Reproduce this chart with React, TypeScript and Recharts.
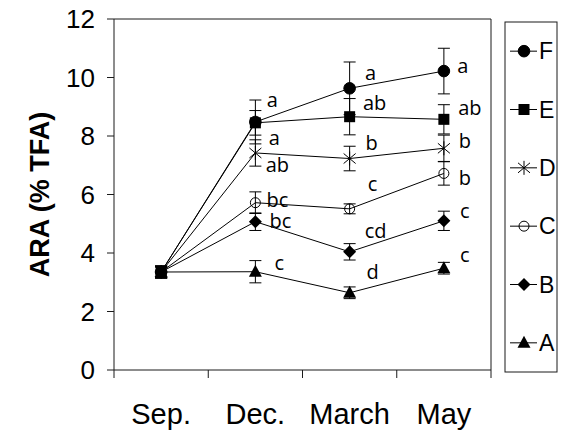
import React from 'react';
import { LineChart, Line, XAxis, YAxis, ErrorBar, LabelList, ReferenceLine, Label } from 'recharts';

const categories = ['Sep.', 'Dec.', 'March', 'May'];
const yTicks = [0, 2, 4, 6, 8, 10, 12];

const valuesA = [3.35, 3.36, 2.64, 3.48];
const errorsA = [0.2, 0.38, 0.2, 0.2];
const lettersA = ['', 'c', 'd', 'c'];

const valuesB = [3.35, 5.07, 4.04, 5.1];
const errorsB = [0.2, 0.3, 0.28, 0.33];
const lettersB = ['', 'bc', 'cd', 'c'];

const valuesC = [3.35, 5.72, 5.51, 6.72];
const errorsC = [0.2, 0.37, 0.17, 0.4];
const lettersC = ['', 'bc', 'c', 'b'];

const valuesD = [3.35, 7.42, 7.23, 7.58];
const errorsD = [0.2, 0.45, 0.42, 0.45];
const lettersD = ['', 'ab', 'b', 'b'];

const valuesE = [3.35, 8.45, 8.66, 8.57];
const errorsE = [0.2, 0.42, 0.62, 0.5];
const lettersE = ['', 'a', 'ab', 'ab'];

const valuesF = [3.35, 8.48, 9.63, 10.22];
const errorsF = [0.2, 0.75, 0.9, 0.78];
const lettersF = ['', 'a', 'a', 'a'];

// label offsets (style): [dx, dy] per point
const labelOffsets: Record<string, number[][]> = {
  F: [[0, 0], [17, -22], [21, -16], [19, -6]],
  E: [[0, 0], [19, 15], [25, -14], [26, -12]],
  D: [[0, 0], [22, 12], [22, -16], [21, -8]],
  C: [[0, 0], [22, -3], [23, -25], [21, 4]],
  B: [[0, 0], [25, -1], [26, -21], [21, -10]],
  A: [[0, 0], [24, -9], [23, -21], [21, -14]],
};

const seriesList = [
  { key: 'F', values: valuesF, errors: errorsF, letters: lettersF },
  { key: 'E', values: valuesE, errors: errorsE, letters: lettersE },
  { key: 'D', values: valuesD, errors: errorsD, letters: lettersD },
  { key: 'C', values: valuesC, errors: errorsC, letters: lettersC },
  { key: 'B', values: valuesB, errors: errorsB, letters: lettersB },
  { key: 'A', values: valuesA, errors: errorsA, letters: lettersA },
];

const data = categories.map((cat, i) => {
  const row: any = { x: i + 0.5, cat };
  seriesList.forEach((s) => {
    row[s.key] = s.values[i];
    row['err' + s.key] = s.errors[i];
    row['lab' + s.key] = s.letters[i];
  });
  return row;
});

const FONT = '"Liberation Sans", Arial, sans-serif';
const AXIS = '#1a1a1a';

function Marker({ type, cx, cy }: { type: string; cx: number; cy: number }) {
  switch (type) {
    case 'F':
      return <circle cx={cx} cy={cy} r={5.8} fill="#000" stroke="#000" />;
    case 'E':
      return <rect x={cx - 5.5} y={cy - 5.5} width={11} height={11} fill="#000" />;
    case 'D':
      return (
        <g stroke="#000" strokeWidth={1}>
          <line x1={cx} y1={cy - 7} x2={cx} y2={cy + 7} />
          <line x1={cx - 6} y1={cy - 5} x2={cx + 6} y2={cy + 5} />
          <line x1={cx - 6} y1={cy + 5} x2={cx + 6} y2={cy - 5} />
        </g>
      );
    case 'C':
      return <circle cx={cx} cy={cy} r={5} fill="none" stroke="#000" strokeWidth={1} />;
    case 'B':
      return <polygon points={`${cx},${cy - 6.5} ${cx + 6.5},${cy} ${cx},${cy + 6.5} ${cx - 6.5},${cy}`} fill="#000" />;
    case 'A':
    default:
      return <polygon points={`${cx},${cy - 7} ${cx - 6.5},${cy + 5} ${cx + 6.5},${cy + 5}`} fill="#000" />;
  }
}

const XTick = (props: any) => {
  const { x, y, payload } = props;
  const v = payload.value;
  if (Number.isInteger(v)) {
    return <line x1={x} y1={y} x2={x} y2={y + 8} stroke={AXIS} strokeWidth={1} />;
  }
  const label = categories[Math.floor(v)];
  return (
    <text x={x} y={y + 54} textAnchor="middle" fontFamily={FONT} fontSize={29} fill="#000">
      {label}
    </text>
  );
};

const YLabel = (props: any) => {
  const vb = props.viewBox;
  const cx = vb.x + 40;
  const cy = vb.y + vb.height / 2;
  return (
    <text
      x={cx}
      y={cy}
      transform={`rotate(-90, ${cx}, ${cy})`}
      textAnchor="middle"
      dominantBaseline="central"
      fontFamily={FONT}
      fontWeight="bold"
      fontSize={27}
      fill="#000"
    >
      ARA (% TFA)
    </text>
  );
};

function makeLabel(key: string) {
  return (props: any) => {
    const { x, y, value, index } = props;
    if (!value) return null;
    const off = labelOffsets[key][index];
    return (
      <text
        x={x + off[0]}
        y={y + off[1]}
        textAnchor="middle"
        dominantBaseline="central"
        fontFamily='"Open Sans", sans-serif'
        fontSize={20}
        fill="#000"
      >
        {value}
      </text>
    );
  };
}

function Legend() {
  const w = 52;
  const h = 350;
  const step = h / seriesList.length;
  return (
    <svg width={w + 2} height={h + 2} style={{ position: 'absolute', left: 504, top: 21 }}>
      <rect x={1} y={1} width={w} height={h} fill="#fff" stroke={AXIS} strokeWidth={1} />
      {seriesList.map((s, i) => {
        const cy = 1 + step * (i + 0.5);
        return (
          <g key={s.key}>
            <line x1={6} y1={cy} x2={33} y2={cy} stroke="#000" strokeWidth={1} />
            <Marker type={s.key} cx={20} cy={cy} />
            <text x={35} y={cy} dominantBaseline="central" fontFamily={FONT} fontSize={23} fill="#000">
              {s.key}
            </text>
          </g>
        );
      })}
    </svg>
  );
}

export default function App() {
  return (
    <div style={{ position: 'absolute', left: 0, top: 0, width: 566, height: 435, background: '#fff' }}>
      <LineChart width={566} height={435} data={data} margin={{ top: 19, right: 75, bottom: 0, left: 0 }}>
        <XAxis
          type="number"
          dataKey="x"
          domain={[0, 4]}
          ticks={[0, 0.5, 1, 1.5, 2, 2.5, 3, 3.5, 4]}
          interval={0}
          tickLine={false}
          tickSize={0}
          tickMargin={0}
          height={65}
          axisLine={{ stroke: AXIS, strokeWidth: 1 }}
          tick={<XTick />}
        />
        <YAxis
          type="number"
          domain={[0, 12]}
          ticks={yTicks}
          interval={0}
          width={114}
          tickSize={7}
          tickMargin={12}
          axisLine={{ stroke: AXIS, strokeWidth: 1 }}
          tickLine={{ stroke: AXIS, strokeWidth: 1 }}
          tick={{ fontFamily: FONT, fontSize: 26, fill: '#000' }}
        >
          <Label content={<YLabel />} />
        </YAxis>
        <ReferenceLine y={12} stroke={AXIS} strokeWidth={1} ifOverflow="extendDomain" />
        <ReferenceLine x={4} stroke={AXIS} strokeWidth={1} ifOverflow="extendDomain" />
        {seriesList.map((s) => (
          <Line
            key={s.key}
            dataKey={s.key}
            stroke="#000"
            strokeWidth={1}
            isAnimationActive={false}
            dot={(p: any) => <Marker key={`${s.key}-${p.index}`} type={s.key} cx={p.cx} cy={p.cy} />}
            activeDot={false}
          >
            <ErrorBar dataKey={'err' + s.key} width={6} stroke="#000" strokeWidth={1} direction="y" />
            <LabelList dataKey={'lab' + s.key} content={makeLabel(s.key)} />
          </Line>
        ))}
      </LineChart>
      <Legend />
    </div>
  );
}
